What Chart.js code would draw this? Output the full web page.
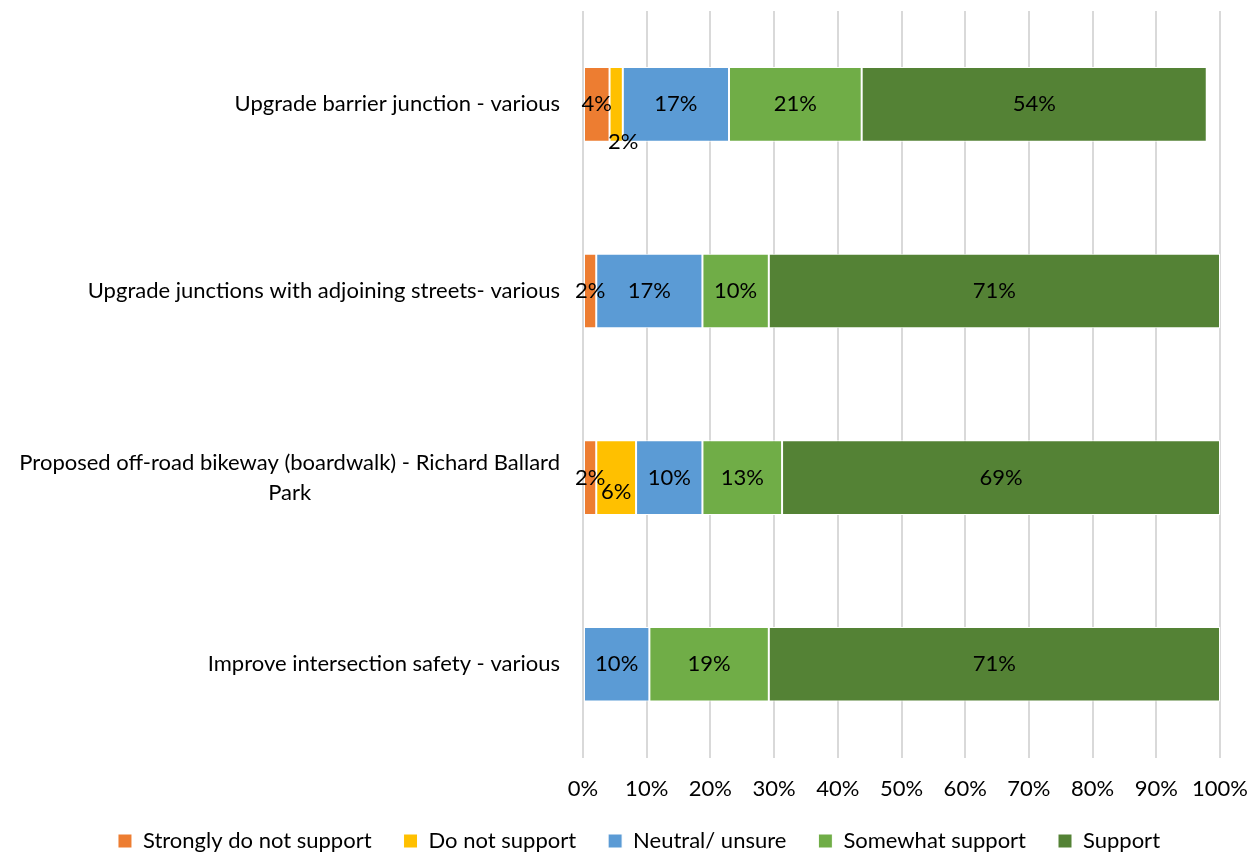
<!DOCTYPE html>
<html lang="en">
<head>
  <meta charset="UTF-8">
  <title>Support by project</title>
  <script src="https://cdn.jsdelivr.net/npm/chart.js"></script>
  <style>
    html, body { margin: 0; padding: 0; background: #fff; }
    #wrap { width: 1258px; height: 852px; position: relative; }
  </style>
</head>
<body>
  <div id="wrap"><canvas id="supportChart"></canvas></div>

  <script>
    // categories, top to bottom
    const categories = [
      'Upgrade barrier junction - various',
      'Upgrade junctions with adjoining streets- various',
      ['Proposed off-road bikeway (boardwalk) - Richard Ballard', 'Park'],
      'Improve intersection safety - various'
    ];

    // percent of responses
    const stronglyDoNotSupport = [4.17, 2.08, 2.08, 0];
    const doNotSupport = [2.08, 0, 6.25, 0];
    const neutralUnsure = [16.67, 16.67, 10.42, 10.42];
    const somewhatSupport = [20.83, 10.42, 12.5, 18.75];
    const support = [54.17, 70.83, 68.75, 70.83];

    const xTicks = [0, 10, 20, 30, 40, 50, 60, 70, 80, 90, 100];

    const FONT = 'Lato';
    const SIZE = 22;
    const TICK_PAD = 18;

    // labels that Excel nudged away from tiny segments
    const labelNudge = {
      '1-0': { dx: 7, dy: 38 },
      '1-2': { dx: 0, dy: 14 }
    };

    const barLabels = {
      id: 'barLabels',
      afterDatasetsDraw(chart) {
        const ctx = chart.ctx;
        ctx.save();
        ctx.font = SIZE + 'px ' + FONT;
        ctx.fillStyle = '#000';
        ctx.textAlign = 'center';
        ctx.textBaseline = 'middle';
        chart.data.datasets.forEach((ds, di) => {
          const meta = chart.getDatasetMeta(di);
          meta.data.forEach((bar, i) => {
            const v = ds.data[i];
            if (!v) return;
            const nudge = labelNudge[di + '-' + i] || { dx: 0, dy: 0 };
            const x = (bar.x + bar.base) / 2 + nudge.dx;
            ctx.fillText(Math.round(v) + '%', x, bar.y + nudge.dy);
          });
        });
        ctx.restore();
      }
    };

    // category labels: right aligned block, wrapped lines centred inside it (as Excel does)
    const categoryLabels = {
      id: 'categoryLabels',
      afterDraw(chart) {
        const ctx = chart.ctx;
        const yScale = chart.scales.y;
        const right = chart.chartArea.left - 23;
        ctx.save();
        ctx.font = SIZE + 'px ' + FONT;
        ctx.fillStyle = '#000';
        ctx.textBaseline = 'middle';
        categories.forEach((label, i) => {
          const y = yScale.getPixelForTick(i);
          const lines = Array.isArray(label) ? label : [label];
          const w = Math.max(...lines.map(l => ctx.measureText(l).width));
          const lineH = 30;
          const top = y - (lines.length - 1) * lineH / 2;
          ctx.textAlign = 'center';
          lines.forEach((line, k) => ctx.fillText(line, right - w / 2, top + k * lineH));
        });
        ctx.restore();
      }
    };

    // move the legend a bit, like the original sits
    const legendShift = {
      id: 'legendShift',
      afterLayout(chart) {
        chart.legend.top -= 4;
        chart.legend.left += 10;
        chart.legend.right += 10;
      }
    };

    const ctx = document.getElementById('supportChart').getContext('2d');
    new Chart(ctx, {
      type: 'bar',
      data: {
        labels: categories,
        datasets: [
          { label: 'Strongly do not support', data: stronglyDoNotSupport, backgroundColor: '#ED7D31' },
          { label: 'Do not support', data: doNotSupport, backgroundColor: '#FFC000' },
          { label: 'Neutral/ unsure', data: neutralUnsure, backgroundColor: '#5B9BD5' },
          { label: 'Somewhat support', data: somewhatSupport, backgroundColor: '#70AD47' },
          { label: 'Support', data: support, backgroundColor: '#548235' }
        ].map(ds => Object.assign(ds, {
          borderColor: '#ffffff',
          borderWidth: 1,
          borderSkipped: false,
          barPercentage: 0.4,
          categoryPercentage: 1
        }))
      },
      options: {
        indexAxis: 'y',
        responsive: true,
        maintainAspectRatio: false,
        animation: false,
        layout: { padding: { top: 11, right: 0, left: 0, bottom: 0 } },
        scales: {
          x: {
            stacked: true,
            min: 0,
            max: 100,
            afterBuildTicks: scale => { scale.ticks = xTicks.map(v => ({ value: v })); },
            // chart.js reserves the tick padding twice; keep it once. Fix right gap too.
            afterFit: scale => {
              scale.height -= TICK_PAD;
              scale.paddingRight = 38;
            },
            grid: { color: '#d9d9d9', lineWidth: 2, drawTicks: false },
            border: { display: false },
            ticks: {
              padding: TICK_PAD,
              color: '#000',
              font: { family: FONT, size: SIZE },
              callback: v => v + '%'
            }
          },
          y: {
            stacked: true,
            afterFit: scale => { scale.width = 583; },
            grid: { display: false },
            border: { display: false },
            ticks: { display: false }
          }
        },
        plugins: {
          legend: {
            position: 'bottom',
            maxHeight: 50,
            labels: {
              boxWidth: 14,
              boxHeight: 14,
              padding: 32,
              color: '#000',
              font: { family: FONT, size: SIZE }
            }
          },
          tooltip: { enabled: false }
        }
      },
      plugins: [barLabels, categoryLabels, legendShift]
    });
  </script>
</body>
</html>
